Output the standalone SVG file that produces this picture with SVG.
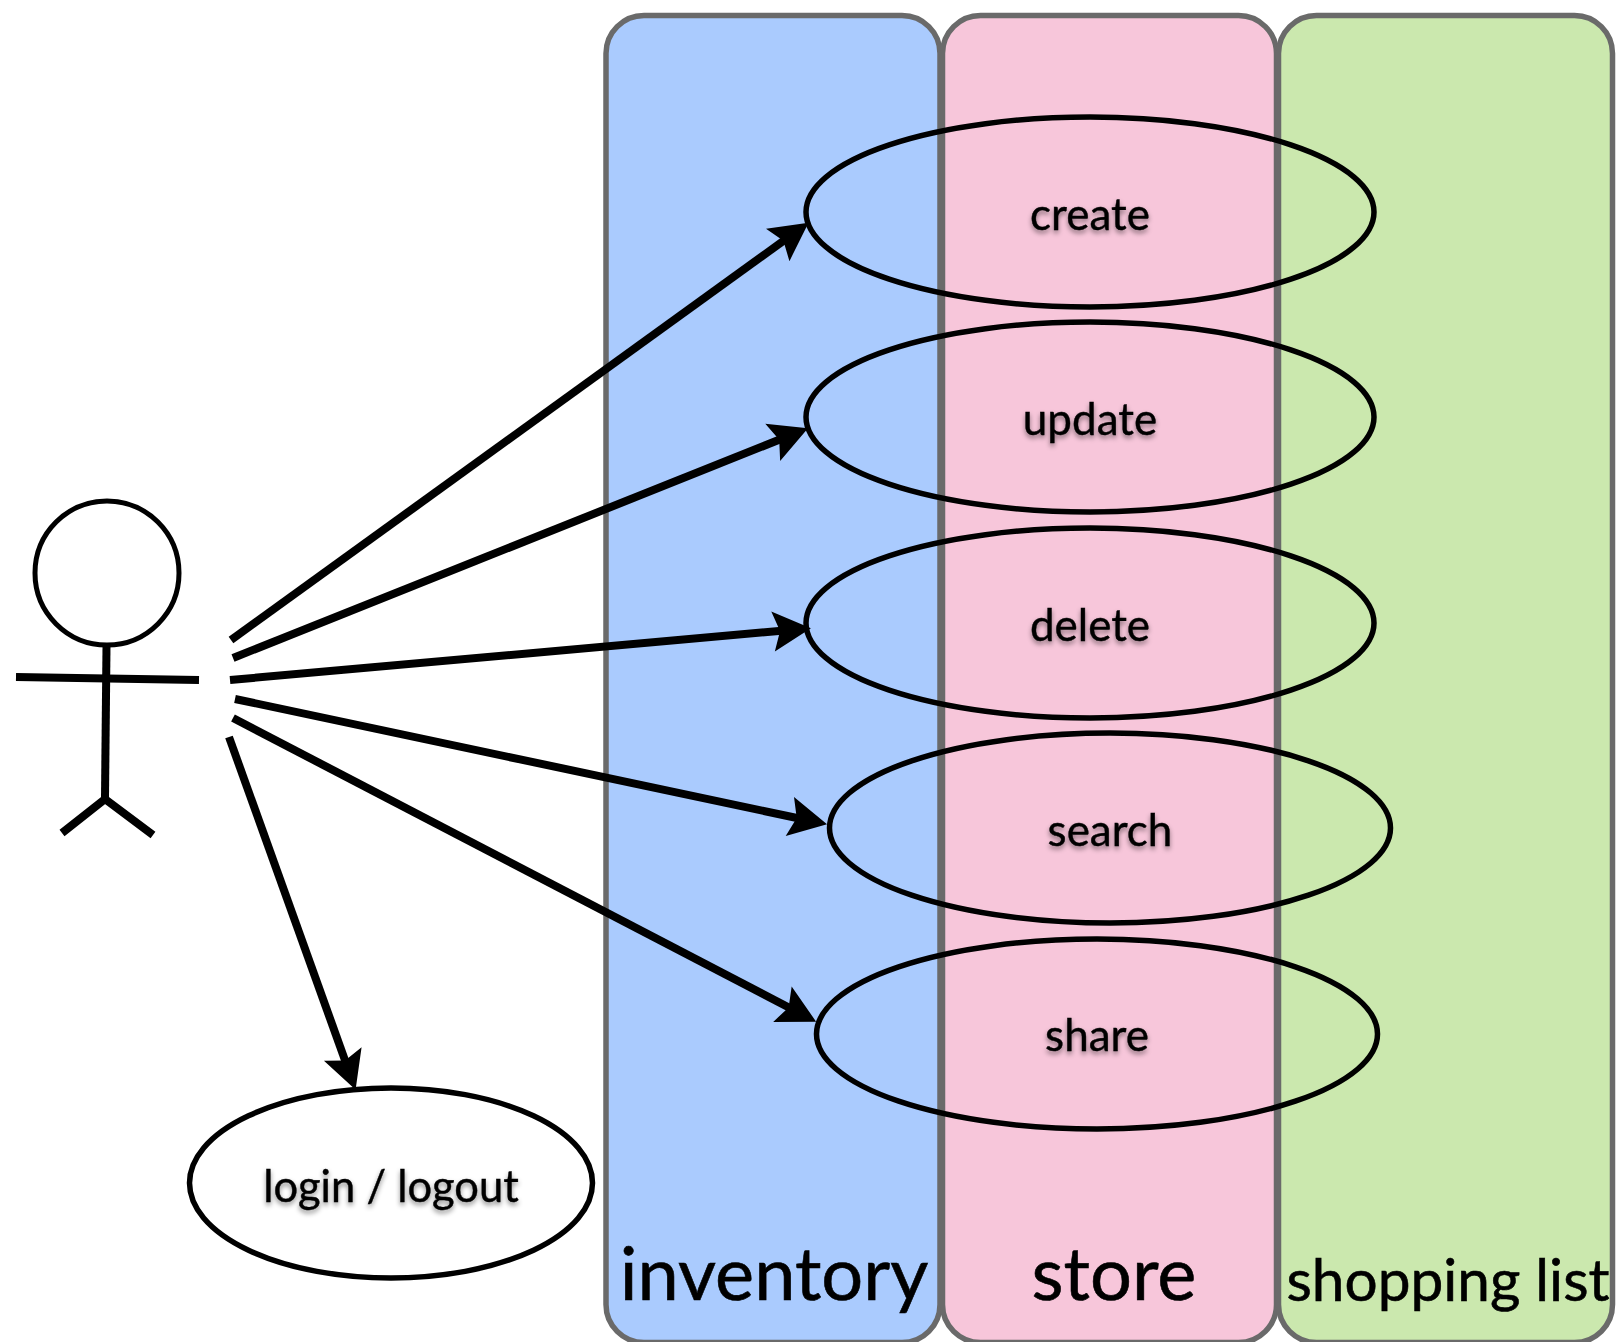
<svg xmlns="http://www.w3.org/2000/svg" width="1618" height="1342" viewBox="0 0 1618 1342">
<style>
.lane{stroke:#6a6a6a;stroke-width:5.500}
.uc{fill:none;stroke:#000;stroke-width:5.500}
.lbl{font-family:"Lato","Noto Sans",sans-serif;font-size:44px;fill:#000;stroke:#000;stroke-width:.4;text-anchor:middle;filter:url(#sh)}
.big{font-family:"Lato","Noto Sans",sans-serif;fill:#000;stroke:#000;stroke-width:.6;text-anchor:middle}
.conn line{stroke:#000;stroke-width:8;marker-end:url(#ah)}
.actor *{fill:none;stroke:#000}
</style>
<defs>
<filter id="sh" x="-20%" y="-30%" width="140%" height="170%"><feDropShadow dx="0" dy="3" stdDeviation="2.500" flood-color="#000" flood-opacity="0.45"/></filter>
<marker id="ah" markerUnits="userSpaceOnUse" markerWidth="46" markerHeight="46" refX="18" refY="21" orient="auto"><path d="M39 21 L1 1 L8 21 L1 41 Z" fill="#000"/></marker>
</defs>
<rect width="1618" height="1342" fill="#fff"/>
<g id="lane-inventory"><rect class="lane" x="606" y="15.500" width="334" height="1327" rx="38" fill="#aacbfe"/><text class="big" x="774" y="1300" font-size="74">inventory</text></g>
<g id="lane-store"><rect class="lane" x="942.500" y="15.500" width="334" height="1327" rx="38" fill="#f7c6da"/><text class="big" x="1114" y="1300" font-size="74">store</text></g>
<g id="lane-shopping"><rect class="lane" x="1278.500" y="15.500" width="334" height="1327" rx="38" fill="#cbe8ae"/><text class="big" x="1448" y="1301" font-size="58.500">shopping list</text></g>
<g id="actor" class="actor">
<circle cx="107" cy="573" r="72" stroke-width="5"/>
<path d="M106.500 646 L105 797" stroke-width="8"/>
<path d="M16 677 L199 680" stroke-width="8"/>
<path d="M62 833 L105 799 L153 835" stroke-width="8"/>
</g>
<g id="connectors" class="conn">
<line x1="231" y1="640" x2="791.500" y2="235"/>
<line x1="233" y1="658" x2="788.500" y2="436"/>
<line x1="230" y1="680" x2="790" y2="630"/>
<line x1="235" y1="699" x2="806.500" y2="820"/>
<line x1="233" y1="718" x2="797.500" y2="1012"/>
<line x1="229" y1="737" x2="348.500" y2="1070"/>
</g>
<g id="uc-create"><ellipse class="uc" cx="1090" cy="212" rx="284" ry="95"/><text class="lbl" x="1090" y="230">create</text></g>
<g id="uc-update"><ellipse class="uc" cx="1090" cy="417" rx="284" ry="95"/><text class="lbl" x="1090" y="435">update</text></g>
<g id="uc-delete"><ellipse class="uc" cx="1090" cy="623" rx="284" ry="95"/><text class="lbl" x="1090" y="641">delete</text></g>
<g id="uc-search"><ellipse class="uc" cx="1110" cy="828" rx="280.500" ry="95"/><text class="lbl" x="1110" y="846">search</text></g>
<g id="uc-share"><ellipse class="uc" cx="1097" cy="1034" rx="280.500" ry="95"/><text class="lbl" x="1097" y="1051">share</text></g>
<g id="uc-login"><ellipse class="uc" cx="391" cy="1183" rx="201.500" ry="95" style="fill:#fff"/><text class="lbl" x="391" y="1202" style="font-size:43.500px">login / logout</text></g>
</svg>
